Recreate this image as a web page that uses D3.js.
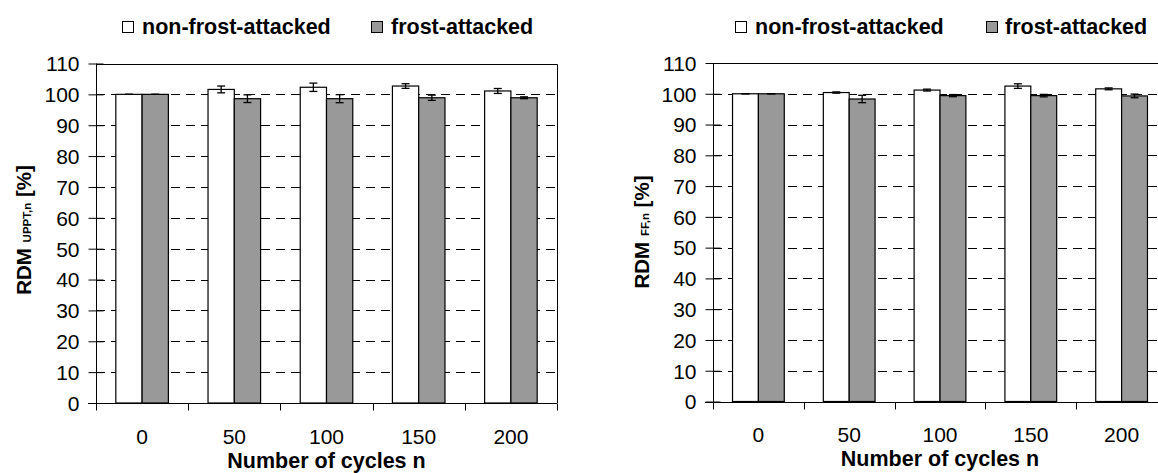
<!DOCTYPE html>
<html>
<head>
<meta charset="utf-8">
<script src="https://cdn.jsdelivr.net/npm/d3@7"></script>
<style>
  html, body { margin: 0; padding: 0; background: #fff; }
  svg { display: block; font-family: "Liberation Sans", Arial, sans-serif; }
</style>
</head>
<body>
<svg id="chart" width="1158" height="473"></svg>
<script>
// ---------- data ----------
const categories = ["0", "50", "100", "150", "200"];
const seriesNames = ["non-frost-attacked", "frost-attacked"];
const yTicks = [0, 10, 20, 30, 40, 50, 60, 70, 80, 90, 100, 110];
const gridValues = [10, 20, 30, 40, 50, 60, 70, 80, 90, 100];

// left chart: RDM UPPT,n
const upptNon = [100, 101.6, 102.3, 102.7, 101.1];
const upptNonErr = [0, 1.1, 1.35, 0.75, 0.8];
const upptFrost = [100, 98.6, 98.6, 98.9, 98.9];
const upptFrostErr = [0, 1.25, 1.3, 0.85, 0.3];

// right chart: RDM FF,n
const ffNon = [100, 100.4, 101.2, 102.5, 101.6];
const ffNonErr = [0, 0.2, 0.3, 0.75, 0.3];
const ffFrost = [100, 98.3, 99.4, 99.4, 99.3];
const ffFrostErr = [0, 1.2, 0.35, 0.4, 0.6];

const colors = ["#ffffff", "#999999"];

const svg = d3.select("#chart");

function drawChart(opt) {
  const g = svg.append("g");
  const x = d3.scaleBand().domain(categories).range([opt.x0, opt.x1]).paddingInner(0).paddingOuter(0);
  const y = d3.scaleLinear().domain([0, 110]).range([opt.yBottom, opt.yTop]);
  const barW = x.bandwidth() * 0.285;

  // gridlines
  g.append("g").selectAll("line").data(gridValues).join("line")
    .attr("x1", opt.x0).attr("x2", opt.x1)
    .attr("y1", d => Math.round(y(d)) + 0.5).attr("y2", d => Math.round(y(d)) + 0.5)
    .attr("stroke", "#000").attr("stroke-width", 1).attr("stroke-dasharray", "9,6");

  // plot border (top and right)
  g.append("path")
    .attr("d", `M${opt.x0},${Math.round(y(110)) + 0.5}H${Math.round(opt.x1) + 0.5}V${Math.round(y(0))}`)
    .attr("fill", "none").attr("stroke", "#000").attr("stroke-width", 1);

  const series = [
    { vals: opt.non, errs: opt.nonErr, color: colors[0], off: -barW },
    { vals: opt.frost, errs: opt.frostErr, color: colors[1], off: 0 }
  ];

  series.forEach(s => {
    const rows = categories.map((c, i) => ({ c, v: s.vals[i], e: s.errs[i] }));
    g.append("g").selectAll("rect").data(rows).join("rect")
      .attr("x", d => x(d.c) + x.bandwidth() / 2 + s.off)
      .attr("y", d => y(d.v))
      .attr("width", barW)
      .attr("height", d => y(0) - y(d.v))
      .attr("fill", s.color)
      .attr("stroke", "#000").attr("stroke-width", 1.2);
    const eg = g.append("g").attr("stroke", "#000").attr("stroke-width", 1.3);
    rows.forEach(d => {
      const cx = x(d.c) + x.bandwidth() / 2 + s.off + barW / 2;
      eg.append("line").attr("x1", cx).attr("x2", cx).attr("y1", y(d.v + d.e)).attr("y2", y(d.v - d.e));
      eg.append("line").attr("x1", cx - 4).attr("x2", cx + 4).attr("y1", y(d.v + d.e)).attr("y2", y(d.v + d.e));
      eg.append("line").attr("x1", cx - 4).attr("x2", cx + 4).attr("y1", y(d.v - d.e)).attr("y2", y(d.v - d.e));
    });
  });

  // y axis
  const yAxis = d3.axisLeft(y).tickValues(yTicks).tickSize(0).tickPadding(0).tickFormat(d3.format("d"));
  const ya = g.append("g").attr("transform", `translate(${Math.round(opt.x0) + 0.5},0)`).call(yAxis);
  ya.select(".domain").remove();
  ya.selectAll(".tick line").remove();
  ya.selectAll(".tick").append("line")
    .attr("x1", -8).attr("x2", 7).attr("stroke", "#000");
  ya.selectAll(".tick text")
    .attr("x", -17).attr("dy", "0.35em")
    .attr("font-size", 21).attr("fill", "#000")
    .attr("font-family", "Liberation Sans, Arial, sans-serif");
  ya.append("line").attr("y1", y(0) + 7).attr("y2", y(110)).attr("stroke", "#000");

  // x axis
  const xAxis = d3.axisBottom(x).tickSize(0).tickPadding(0);
  const xa = g.append("g").attr("transform", `translate(0,${Math.round(y(0)) + 0.5})`).call(xAxis);
  xa.select(".domain").remove();
  xa.append("line").attr("x1", opt.x0 - 8).attr("x2", opt.x1).attr("stroke", "#000");
  xa.selectAll(".tick text")
    .attr("y", opt.labelDy).attr("dy", 0)
    .attr("font-size", 21).attr("fill", "#000")
    .attr("font-family", "Liberation Sans, Arial, sans-serif");
  const bounds = categories.map(c => x(c)).concat([opt.x1]);
  xa.append("g").selectAll("line").data(bounds).join("line")
    .attr("x1", d => Math.round(d) + 0.5).attr("x2", d => Math.round(d) + 0.5)
    .attr("y1", 0).attr("y2", 7).attr("stroke", "#000");

  // x title
  g.append("text")
    .attr("x", (opt.x0 + opt.x1) / 2).attr("y", opt.titleY)
    .attr("text-anchor", "middle").attr("font-weight", "bold").attr("font-size", 21.5)
    .text("Number of cycles n");

  // y title
  const yt = g.append("text")
    .attr("transform", `translate(${opt.yLabelX},${opt.yLabelY}) rotate(-90)`)
    .attr("text-anchor", "middle").attr("font-weight", "bold");
  yt.append("tspan").attr("font-size", 20.5).text("RDM ");
  yt.append("tspan").attr("font-size", 11.5).text(opt.sub);
  yt.append("tspan").attr("font-size", 20.5).text(" [%]");

  // legend
  const lg = g.append("g");
  opt.legend.forEach((l, i) => {
    lg.append("rect").attr("x", l.sq + 0.5).attr("y", 21.5).attr("width", 11).attr("height", 11)
      .attr("fill", colors[i]).attr("stroke", "#000").attr("stroke-width", 1);
    lg.append("text").attr("x", l.tx).attr("y", 34).attr("font-size", 21.5).attr("font-weight", "bold")
      .text(seriesNames[i]);
  });
}

drawChart({
  x0: 96, x1: 557, yTop: 63.5, yBottom: 403,
  non: upptNon, nonErr: upptNonErr, frost: upptFrost, frostErr: upptFrostErr,
  sub: "UPPT,n", yLabelX: 31, yLabelY: 230, labelDy: 40, titleY: 468,
  legend: [{ sq: 122, tx: 142 }, { sq: 371, tx: 391 }]
});

drawChart({
  x0: 713, x1: 1167, yTop: 63, yBottom: 401.5,
  non: ffNon, nonErr: ffNonErr, frost: ffFrost, frostErr: ffFrostErr,
  sub: "FF,n", yLabelX: 649, yLabelY: 232, labelDy: 39.5, titleY: 466,
  legend: [{ sq: 735, tx: 755 }, { sq: 986, tx: 1005 }]
});
</script>
</body>
</html>
